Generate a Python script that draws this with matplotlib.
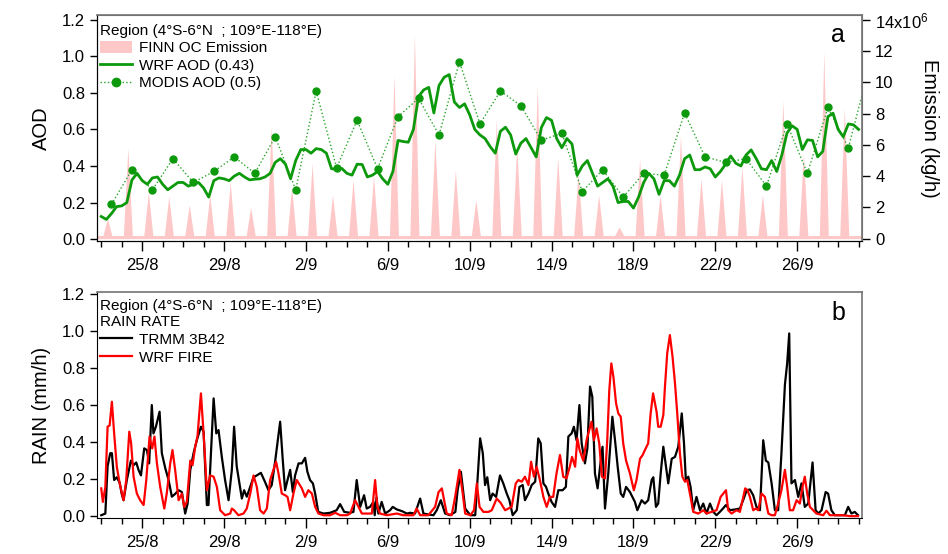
import numpy as np
import pandas as pd
import matplotlib
matplotlib.use("Agg")
import matplotlib.pyplot as plt
import matplotlib.dates as mdates
from matplotlib.patches import Patch
from matplotlib.lines import Line2D
from matplotlib.ticker import FixedLocator, FuncFormatter

plt.rcParams['font.family'] = ['Liberation Sans', 'DejaVu Sans']
plt.rcParams['mathtext.fontset'] = 'custom'
plt.rcParams['mathtext.rm'] = 'Liberation Sans'
plt.rcParams['mathtext.default'] = 'regular'

start = pd.Timestamp('2015-08-23')
region = "Region (4°S-6°N  ; 109°E-118°E)"

# WRF AOD, 6-hourly from 23/8 00:00
wrf_aod = [
    0.124, 0.108, 0.14, 0.178,   # 23/8
    0.182, 0.20, 0.324, 0.36,    # 24/8
    0.32, 0.30, 0.335, 0.34,     # 25/8
    0.30, 0.27, 0.29, 0.31,      # 26/8
    0.31, 0.29, 0.30, 0.31,      # 27/8
    0.28, 0.23, 0.32, 0.335,     # 28/8
    0.33, 0.32, 0.345, 0.36,     # 29/8
    0.34, 0.324, 0.328, 0.33,    # 30/8
    0.34, 0.36, 0.42, 0.44,      # 31/8
    0.41, 0.33, 0.43, 0.49,      # 1/9
    0.49, 0.47, 0.495, 0.49,     # 2/9
    0.47, 0.385, 0.382, 0.387,   # 3/9
    0.36, 0.35, 0.41, 0.408,     # 4/9
    0.34, 0.35, 0.37, 0.33,      # 5/9
    0.30, 0.37, 0.54, 0.534,     # 6/9
    0.53, 0.60, 0.78, 0.816,     # 7/9
    0.83, 0.69, 0.84, 0.885,     # 8/9
    0.90, 0.75, 0.72, 0.74,      # 9/9
    0.68, 0.60, 0.57, 0.55,      # 10/9
    0.506, 0.47, 0.59, 0.612,    # 11/9
    0.57, 0.465, 0.525, 0.55,    # 12/9
    0.50, 0.45, 0.61, 0.665,     # 13/9
    0.65, 0.55, 0.50, 0.55,      # 14/9
    0.52, 0.35, 0.40, 0.43,      # 15/9
    0.36, 0.29, 0.31, 0.33,      # 16/9
    0.29, 0.20, 0.206, 0.206,    # 17/9
    0.17, 0.23, 0.31, 0.36,      # 18/9
    0.33, 0.245, 0.32, 0.32,     # 19/9
    0.29, 0.35, 0.44, 0.46,      # 20/9
    0.38, 0.38, 0.395, 0.385,    # 21/9
    0.34, 0.37, 0.41, 0.455,     # 22/9
    0.415, 0.40, 0.46, 0.488,    # 23/9
    0.44, 0.385, 0.38, 0.43,     # 24/9
    0.37, 0.46, 0.58, 0.62,      # 25/9
    0.60, 0.49, 0.543, 0.54,     # 26/9
    0.45, 0.48, 0.67, 0.689,     # 27/9
    0.60, 0.56, 0.63, 0.625,     # 28/9
    0.60]                        # 29/9

# MODIS AOD, daily (12:00) from 23/8
modis_aod = [0.19, 0.38, 0.27, 0.44, 0.31, 0.37, 0.45, 0.36, 0.56, 0.27,
             0.81, 0.39, 0.65, 0.385, 0.67, 0.77, 0.57, 0.97, 0.63, 0.81,
             0.73, 0.54, 0.58, 0.26, 0.38, 0.23, 0.36, 0.35, 0.69, 0.45,
             0.42, 0.44, 0.29, 0.63, 0.36, 0.72, 0.50, 0.93]

# FINN OC emission daily peak (x1e6 kg/h), peak around 07 UTC
finn_peak = [1.3, 5.8, 3.0, 2.7, 2.15, 2.8, 3.6, 2.0, 7.15, 3.3,
             4.8, 2.8, 3.75, 4.0, 10.45, 13.1, 6.3, 4.4, 2.5, 7.6,
             5.9, 9.8, 5.2, 4.2, 2.8, 0.75, 5.1, 2.8, 6.6, 3.85,
             3.75, 4.6, 2.8, 8.85, 5.45, 11.95, 8.4]
finn_base = 0.2

# rain rate (mm/h), time in days since 23/8 00:00
trmm_day = [0, 0.2, 0.31, 0.44, 0.52, 0.63, 0.76, 0.9, 1.0, 1.09, 1.25, 1.45, 1.58, 1.71, 1.82, 1.94,
            2.1, 2.23, 2.34, 2.47, 2.55, 2.67, 2.85, 2.96, 3.13, 3.29, 3.45, 3.61, 3.78, 3.94,
            4.1, 4.22, 4.35, 4.51, 4.67, 4.87, 5.0, 5.16, 5.24, 5.32, 5.49, 5.62, 5.73, 5.89,
            6.05, 6.22, 6.38, 6.49, 6.62, 6.75, 6.87, 6.98, 7.11, 7.28, 7.44, 7.6, 7.8,
            8.0, 8.17, 8.33, 8.5, 8.74, 8.87, 8.98, 9.1, 9.23, 9.36, 9.47, 9.64, 9.8, 9.96,
            10.07, 10.2, 10.34, 10.45, 10.6, 10.86, 11.18, 11.5, 11.67, 11.87, 12.16, 12.32,
            12.48, 12.65, 12.84, 12.97, 13.13, 13.3, 13.36, 13.45, 13.54, 13.7, 13.87,
            14.11, 14.24, 14.44, 14.69, 14.93, 15.09, 15.33, 15.58, 15.74, 15.98, 16.23,
            16.39, 16.59, 16.8, 17.04, 17.3, 17.41, 17.57, 17.78, 18.03, 18.27, 18.35,
            18.51, 18.64, 18.75, 18.86, 19.0, 19.12, 19.29, 19.48, 19.64, 19.81, 19.94,
            20.1, 20.3, 20.43, 20.59, 20.7, 20.87, 21.03, 21.2, 21.35, 21.47, 21.6, 21.73,
            21.84, 22.0, 22.17, 22.33, 22.54, 22.7, 22.82, 22.98, 23.09, 23.22, 23.36,
            23.47, 23.63, 23.75, 23.88, 23.99, 24.12, 24.25, 24.37, 24.49, 24.61, 24.77,
            24.97, 25.1, 25.23, 25.38, 25.5, 25.64, 25.83, 26.07, 26.19, 26.4, 26.56,
            26.72, 26.89, 26.97, 27.1, 27.21, 27.33, 27.46, 27.59, 27.7, 27.87, 28.03,
            28.19, 28.36, 28.47, 28.56, 28.68, 28.79, 28.92, 29.08, 29.25, 29.41, 29.57,
            29.74, 29.9, 30.06, 30.3, 30.52, 30.71, 30.96, 31.2, 31.36, 31.53, 31.69,
            31.85, 32.01, 32.18, 32.34, 32.47, 32.59, 32.75, 32.91, 33.07, 33.23, 33.4,
            33.51, 33.61, 33.72, 33.89, 34.05, 34.21, 34.37, 34.54, 34.75, 34.9, 35.03,
            35.19, 35.39, 35.51, 35.67, 35.84, 36.0, 36.33, 36.49, 36.65, 36.81, 36.97]
trmm_rate = [0.005, 0.014, 0.27, 0.34, 0.34, 0.195, 0.21, 0.18, 0.12, 0.086, 0.195, 0.30, 0.275, 0.29, 0.25, 0.22,
             0.366, 0.357, 0.285, 0.60, 0.447, 0.483, 0.564, 0.34, 0.258, 0.195, 0.105, 0.12, 0.14, 0.13,
             0.014, 0.068, 0.25, 0.34, 0.41, 0.483, 0.456, 0.06, 0.06, 0.25, 0.636, 0.447, 0.465, 0.32,
             0.195, 0.086, 0.25, 0.483, 0.267, 0.177, 0.095, 0.14, 0.105, 0.16, 0.21, 0.22, 0.234,
             0.185, 0.14, 0.168, 0.30, 0.51, 0.30, 0.14, 0.195, 0.25, 0.13, 0.22, 0.285, 0.285, 0.315,
             0.24, 0.195, 0.177, 0.122, 0.023, 0.014, 0.018, 0.032, 0.065, 0.023, 0.018, 0.023,
             0.195, 0.05, 0.113, 0.041, 0.05, 0.077, 0.005, 0.10, 0.014, 0.077, 0.014,
             0.032, 0.05, 0.036, 0.027, 0.014, 0.018, 0.014, 0.095, 0.014, 0.009, 0.005,
             0.032, 0.086, 0.014, 0.005, 0.023, 0.14, 0.24, 0.041, 0.005, 0.005, 0.14,
             0.42, 0.34, 0.168, 0.21, 0.086, 0.122, 0.104, 0.22, 0.177, 0.122, 0.086,
             0.005, 0.032, 0.158, 0.168, 0.086, 0.122, 0.168, 0.186, 0.42, 0.393, 0.177, 0.158,
             0.122, 0.077, 0.05, 0.14, 0.14, 0.158, 0.43, 0.447, 0.483, 0.41, 0.60,
             0.393, 0.285, 0.366, 0.70, 0.645, 0.23, 0.15, 0.267, 0.375, 0.041, 0.23,
             0.537, 0.41, 0.267, 0.122, 0.104, 0.158, 0.13, 0.077, 0.032, 0.086, 0.068,
             0.086, 0.195, 0.21, 0.05, 0.068, 0.23, 0.375, 0.267, 0.177, 0.31, 0.32,
             0.375, 0.555, 0.393, 0.195, 0.213, 0.158, 0.032, 0.104, 0.032, 0.068, 0.014,
             0.068, 0.023, 0.005, 0.032, 0.06, 0.032, 0.036, 0.041, 0.086, 0.14, 0.144,
             0.113, 0.05, 0.032, 0.41, 0.30, 0.29, 0.177, 0.032, 0.032, 0.34, 0.71,
             0.825, 0.987, 0.177, 0.195, 0.104, 0.177, 0.05, 0.068, 0.29, 0.032, 0.014,
             0.032, 0.13, 0.122, 0.032, 0.005, 0.005, 0.005, 0.05, 0.014, 0.023, 0.005]

wrf_day = [0.0, 0.08, 0.2, 0.31, 0.41, 0.52, 0.63, 0.76, 0.9, 1.09, 1.22, 1.37, 1.46, 1.58, 1.74, 1.9,
           2.07, 2.2, 2.36, 2.49, 2.6, 2.72, 2.88, 3.08, 3.2, 3.37, 3.48, 3.61, 3.78, 3.94,
           4.05, 4.18, 4.35, 4.46, 4.59, 4.7, 4.87, 5.0, 5.16, 5.32, 5.49, 5.65, 5.81,
           6.05, 6.3, 6.38, 6.49, 6.7, 6.95, 7.11, 7.28, 7.44, 7.6, 7.76, 7.93,
           8.09, 8.25, 8.41, 8.54, 8.66, 8.82, 8.98, 9.1, 9.23, 9.39, 9.55, 9.8, 9.96,
           10.12, 10.29, 10.45, 10.61, 10.86, 11.18, 11.43, 11.67, 12.0, 12.16, 12.4, 12.57,
           12.73, 12.97, 13.22, 13.38, 13.49, 13.62, 13.95, 14.44, 14.76, 15.25, 15.41,
           15.58, 15.98, 16.31, 16.48, 16.64, 16.75, 16.88, 17.12, 17.29, 17.5, 17.66,
           17.78, 18.03, 18.21, 18.35, 18.48, 18.67, 18.92, 19.08, 19.32, 19.51, 19.73,
           19.89, 20.05, 20.25, 20.38, 20.54, 20.7, 20.87, 21.0, 21.14, 21.27, 21.43,
           21.6, 21.76, 21.92, 22.08, 22.24, 22.41, 22.57, 22.73, 22.89, 23.0, 23.15,
           23.26, 23.37, 23.55, 23.71, 23.84, 23.95, 24.07, 24.2, 24.33, 24.46, 24.61,
           24.72, 24.82, 24.92, 25.02, 25.15, 25.26, 25.38, 25.5, 25.64, 25.83, 26.02,
           26.15, 26.32, 26.45, 26.56, 26.72, 26.84, 26.96, 27.05, 27.13, 27.21, 27.33,
           27.46, 27.54, 27.65, 27.78, 27.91, 28.03, 28.14, 28.27, 28.39, 28.52, 28.63,
           28.79, 28.92, 29.17, 29.41, 29.57, 29.82, 30.06, 30.26, 30.39, 30.52, 30.63,
           30.79, 31.04, 31.2, 31.33, 31.46, 31.57, 31.69, 31.85, 31.98, 32.1, 32.26,
           32.42, 32.59, 32.75, 32.91, 33.07, 33.23, 33.4, 33.51, 33.64, 33.8, 33.97,
           34.13, 34.26, 34.37, 34.49, 34.62, 34.78, 34.94, 35.27, 35.43, 35.6, 35.92,
           36.25, 36.57, 36.97]
wrf_rate = [0.15, 0.077, 0.158, 0.483, 0.49, 0.618, 0.447, 0.267, 0.177, 0.086, 0.195, 0.456, 0.393, 0.213, 0.122, 0.086,
            0.06, 0.195, 0.43, 0.366, 0.43, 0.285, 0.158, 0.041, 0.122, 0.285, 0.357, 0.25, 0.086, 0.122,
            0.05, 0.077, 0.30, 0.275, 0.375, 0.43, 0.663, 0.447, 0.14, 0.22, 0.213, 0.158, 0.032,
            0.005, 0.014, 0.041, 0.032, 0.005, 0.014, 0.041, 0.122, 0.22, 0.158, 0.032, 0.014,
            0.041, 0.195, 0.25, 0.294, 0.23, 0.122, 0.113, 0.104, 0.032, 0.122, 0.195, 0.15, 0.104,
            0.14, 0.122, 0.05, 0.014, 0.005, 0.005, 0.018, 0.005, 0.005, 0.014, 0.086, 0.05,
            0.014, 0.014, 0.014, 0.195, 0.05, 0.014, 0.005, 0.014, 0.005, 0.005, 0.041,
            0.005, 0.005, 0.05, 0.13, 0.15, 0.086, 0.014, 0.005, 0.104, 0.25, 0.122,
            0.014, 0.005, 0.032, 0.177, 0.05, 0.023, 0.023, 0.032, 0.095, 0.072, 0.032,
            0.041, 0.05, 0.177, 0.195, 0.186, 0.213, 0.168, 0.294, 0.213, 0.267, 0.195,
            0.104, 0.05, 0.104, 0.104, 0.23, 0.33, 0.213, 0.204, 0.267, 0.32, 0.267,
            0.42, 0.357, 0.30, 0.41, 0.465, 0.51, 0.41, 0.474, 0.393, 0.213, 0.204,
            0.41, 0.68, 0.825, 0.753, 0.61, 0.555, 0.537, 0.393, 0.30, 0.23, 0.14,
            0.195, 0.31, 0.33, 0.357, 0.393, 0.555, 0.663, 0.61, 0.564, 0.483, 0.483,
            0.546, 0.70, 0.88, 0.978, 0.861, 0.717, 0.555, 0.339, 0.213, 0.186, 0.195,
            0.104, 0.023, 0.014, 0.032, 0.014, 0.023, 0.032, 0.104, 0.122, 0.14, 0.032,
            0.014, 0.032, 0.023, 0.086, 0.15, 0.14, 0.104, 0.032, 0.041, 0.032, 0.122,
            0.104, 0.014, 0.005, 0.005, 0.068, 0.14, 0.25, 0.158, 0.032, 0.032, 0.086,
            0.068, 0.158, 0.213, 0.122, 0.05, 0.032, 0.014, 0.005, 0.029, 0.005, 0.005,
            0.005, 0.0, 0.0]


def to_time(days):
    return start + pd.to_timedelta(np.asarray(days, dtype=float), unit='D')


t_wrf_aod = start + pd.to_timedelta(np.arange(len(wrf_aod)) * 6, unit='h')
t_modis = start + pd.to_timedelta(np.arange(len(modis_aod)) * 24 + 12, unit='h')

# emission spikes: base - peak - base each day
finn_t, finn_v = [-0.3], [finn_base]
for i, p in enumerate(finn_peak):
    finn_t += [i + 0.08, i + 0.30, i + 0.52]
    finn_v += [finn_base, p, finn_base]
finn_t.append(37.3)
finn_v.append(finn_base)
t_finn = to_time(finn_t)
finn_v = np.array(finn_v) * 1e6

major = pd.date_range('2015-08-25', '2015-09-26', freq='4D')
minor = pd.date_range('2015-08-23', '2015-09-29', freq='D')
xlim = (mdates.date2num(start - pd.Timedelta(hours=5)),
        mdates.date2num(start + pd.Timedelta(days=37, hours=4)))

green = '#0c990c'
pink = '#ffc8c8'

fig = plt.figure(figsize=(9.48, 5.54), dpi=100)
ax1 = fig.add_axes([0.1023, 0.565, 0.807, 0.408])
ax3 = fig.add_axes([0.1023, 0.065, 0.807, 0.408])


def style_axis(ax):
    ax.set_xlim(*xlim)
    ax.xaxis.set_major_locator(FixedLocator(mdates.date2num(major)))
    ax.xaxis.set_minor_locator(FixedLocator(mdates.date2num(minor)))
    ax.xaxis.set_major_formatter(FuncFormatter(
        lambda x, p: f"{mdates.num2date(x).day}/{mdates.num2date(x).month}"))
    ax.tick_params(axis='x', which='major', length=7, width=1, labelsize=12, pad=5)
    ax.tick_params(axis='x', which='minor', length=4.5, width=1)
    ax.tick_params(axis='y', which='major', length=5, width=1, labelsize=12)
    ax.set_yticks(np.arange(0, 1.21, 0.2))
    ax.yaxis.set_major_formatter(FuncFormatter(lambda v, p: f"{v:.1f}"))
    for s in ['top', 'right']:
        ax.spines[s].set_color('0.45')
        ax.spines[s].set_linewidth(1.2)


# panel a
ax2 = ax1.twinx()
ax2.fill_between(t_finn, 0, finn_v, color=pink, lw=0)
ax2.set_ylim(-0.15e6, 14.3e6)
ax2.set_yticks(np.arange(0, 14.1e6, 2e6))
ax2.yaxis.set_major_formatter(FuncFormatter(
    lambda v, p: '14x10$^{6}$' if round(v / 1e6) == 14 else f"{v / 1e6:.0f}"))
ax2.tick_params(axis='y', length=6, width=1, labelsize=12)
ax2.set_ylabel("Emission (kg/h)", fontsize=14.5, rotation=270, va='center')
ax2.yaxis.set_label_coords(1.088, 0.5)
ax2.spines['right'].set_color('0.45')
ax2.spines['top'].set_color('0.45')

ax1.set_zorder(ax2.get_zorder() + 1)
ax1.patch.set_visible(False)
ax1.plot(t_modis, modis_aod, ':', color='#2aa52a', lw=1.0, marker='o', ms=5,
         mfc=green, mec=green)
ax1.plot(t_wrf_aod, wrf_aod, '-', color=green, lw=2)
ax1.set_ylim(-0.01, 1.226)
style_axis(ax1)
ax1.set_ylabel("AOD", fontsize=14.5, labelpad=8)
ax1.text(0.969, 0.91, "a", transform=ax1.transAxes, fontsize=18, ha='center', va='center')

h_a = [Patch(color=pink, lw=0),
       Line2D([], [], color=green, lw=2),
       Line2D([], [], color='#2aa52a', lw=1.0, ls=':', marker='o', ms=6, mfc=green, mec=green)]
ax1.legend(h_a, ["FINN OC Emission", "WRF AOD (0.43)", "MODIS AOD (0.5)"],
           title=region, loc='upper left', bbox_to_anchor=(-0.002, 0.982), frameon=False,
           fontsize=11, title_fontsize=11, alignment='left', borderaxespad=0.1,
           borderpad=0.2, labelspacing=0.22, handlelength=2.1, handletextpad=0.45,
           handleheight=0.8)

# panel b
ax3.plot(to_time(trmm_day), trmm_rate, color='black', lw=1.6)
ax3.plot(to_time(wrf_day), wrf_rate, color='#ff0000', lw=1.6)
ax3.set_ylim(-0.01, 1.211)
style_axis(ax3)
ax3.set_ylabel("RAIN (mm/h)", fontsize=14.5, labelpad=8)
ax3.text(0.969, 0.905, "b", transform=ax3.transAxes, fontsize=18, ha='center', va='center')
h_b = [Line2D([], [], color='black', lw=1.6), Line2D([], [], color='#ff0000', lw=1.6)]
ax3.legend(h_b, ["TRMM 3B42", "WRF FIRE"], title=region + "\nRAIN RATE",
           loc='upper left', bbox_to_anchor=(-0.002, 0.99), frameon=False,
           fontsize=11, title_fontsize=11, alignment='left', borderaxespad=0.1,
           borderpad=0.2, labelspacing=0.25, handlelength=2.1, handletextpad=0.45)

fig.savefig("out.png", dpi=100)
